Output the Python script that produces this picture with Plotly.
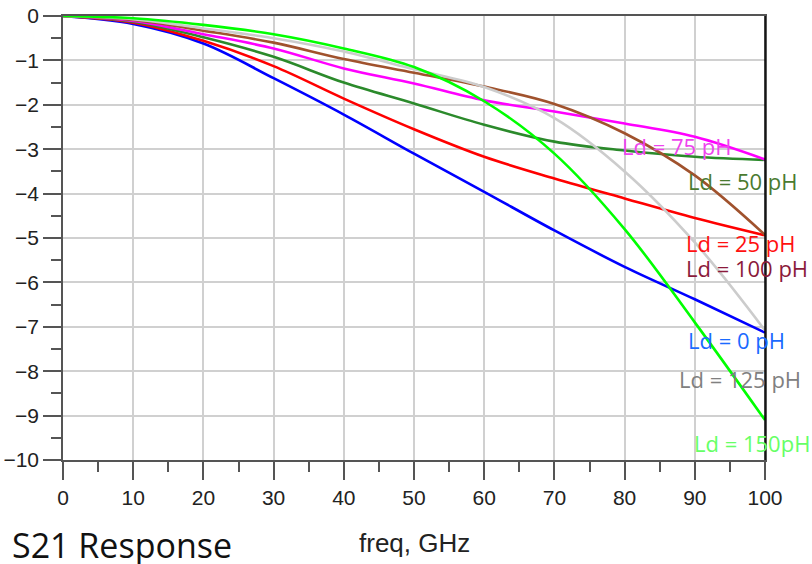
import plotly.graph_objects as go

freq = [0, 10, 20, 30, 40, 50, 60, 70, 80, 90, 100]

s21_ld0   = [0, -0.18, -0.62, -1.40, -2.22, -3.10, -3.96, -4.83, -5.65, -6.38, -7.13]
s21_ld25  = [0, -0.15, -0.56, -1.13, -1.86, -2.55, -3.17, -3.66, -4.11, -4.55, -4.94]
s21_ld50  = [0, -0.13, -0.48, -0.92, -1.50, -1.97, -2.45, -2.83, -3.03, -3.17, -3.24]
s21_ld75  = [0, -0.11, -0.41, -0.73, -1.18, -1.52, -1.90, -2.15, -2.42, -2.72, -3.23]
s21_ld100 = [0, -0.09, -0.33, -0.60, -0.97, -1.28, -1.59, -1.98, -2.64, -3.59, -4.93]
s21_ld125 = [0, -0.07, -0.28, -0.50, -0.80, -1.20, -1.60, -2.30, -3.50, -5.10, -7.08]
s21_ld150 = [0, -0.05, -0.20, -0.41, -0.73, -1.15, -1.92, -3.10, -4.80, -6.90, -9.10]

series = [
    ("Ld = 0 pH", s21_ld0, "#0000ff"),
    ("Ld = 25 pH", s21_ld25, "#ff0000"),
    ("Ld = 50 pH", s21_ld50, "#2b8a2b"),
    ("Ld = 75 pH", s21_ld75, "#ff00ff"),
    ("Ld = 100 pH", s21_ld100, "#a0522d"),
    ("Ld = 125 pH", s21_ld125, "#cccccc"),
    ("Ld = 150pH", s21_ld150, "#00ff00"),
]

labels = ["Ld = 75 pH", "Ld = 50 pH", "Ld = 25 pH", "Ld = 100 pH",
          "Ld = 0 pH", "Ld = 125 pH", "Ld = 150pH"]
label_x = [79.3, 88.7, 88.5, 88.5, 88.7, 87.5, 89.6]
label_y = [-2.93, -3.72, -5.11, -5.68, -7.30, -8.18, -9.62]
label_colors = ["#ee44ee", "#4a7a30", "#ff1010", "#8b1a3a",
                "#1a6aff", "#808080", "#66ff66"]

fig = go.Figure()
for name, vals, col in series:
    fig.add_trace(go.Scatter(x=freq, y=vals, mode="lines", name=name,
                             line=dict(color=col, width=2.6, shape="spline", smoothing=1.0),
                             showlegend=False))

for t, x, y, c in zip(labels, label_x, label_y, label_colors):
    fig.add_annotation(x=x, y=y, xref="x", yref="y", text=t, showarrow=False,
                       xanchor="left", yanchor="middle",
                       font=dict(family="Open Sans", size=22, color=c))

fig.add_annotation(x=0.5, y=-0.187, xref="paper", yref="paper", text="freq, GHz",
                   showarrow=False, xanchor="center", yanchor="middle",
                   font=dict(family="Liberation Sans", size=26, color="#222222"))
fig.add_annotation(x=-0.0755, y=-0.192, xref="paper", yref="paper", text="S21 Response",
                   showarrow=False, xanchor="left", yanchor="middle",
                   font=dict(family="Open Sans", size=34, color="#111111"))

axis_common = dict(
    showgrid=True, gridcolor="#d0d0d0", gridwidth=1.5,
    showline=True, linecolor="#555555", linewidth=1.5, mirror=True,
    ticks="outside", ticklen=18, tickwidth=1.5, tickcolor="#555555",
    tickfont=dict(family="Liberation Sans", size=21, color="#222222"),
    zeroline=False, automargin=False,
)

fig.update_xaxes(range=[0, 100], dtick=10, tick0=0,
                 minor=dict(dtick=5, ticklen=10, tickcolor="#555555", tickwidth=1.5,
                            ticks="outside", showgrid=False),
                 **axis_common)
fig.update_yaxes(range=[-10, 0], dtick=1, tick0=0,
                 minor=dict(dtick=0.5, ticklen=10, tickcolor="#555555", tickwidth=1.5,
                            ticks="outside", showgrid=False),
                 **axis_common)

# right border in black
fig.add_shape(type="line", xref="paper", yref="paper", x0=1, x1=1, y0=0, y1=1,
              line=dict(color="#000000", width=1.5))

fig.update_layout(
    width=812, height=564,
    margin=dict(l=63, r=47, t=16, b=104),
    plot_bgcolor="white", paper_bgcolor="white",
)

fig.write_html("out.html")
